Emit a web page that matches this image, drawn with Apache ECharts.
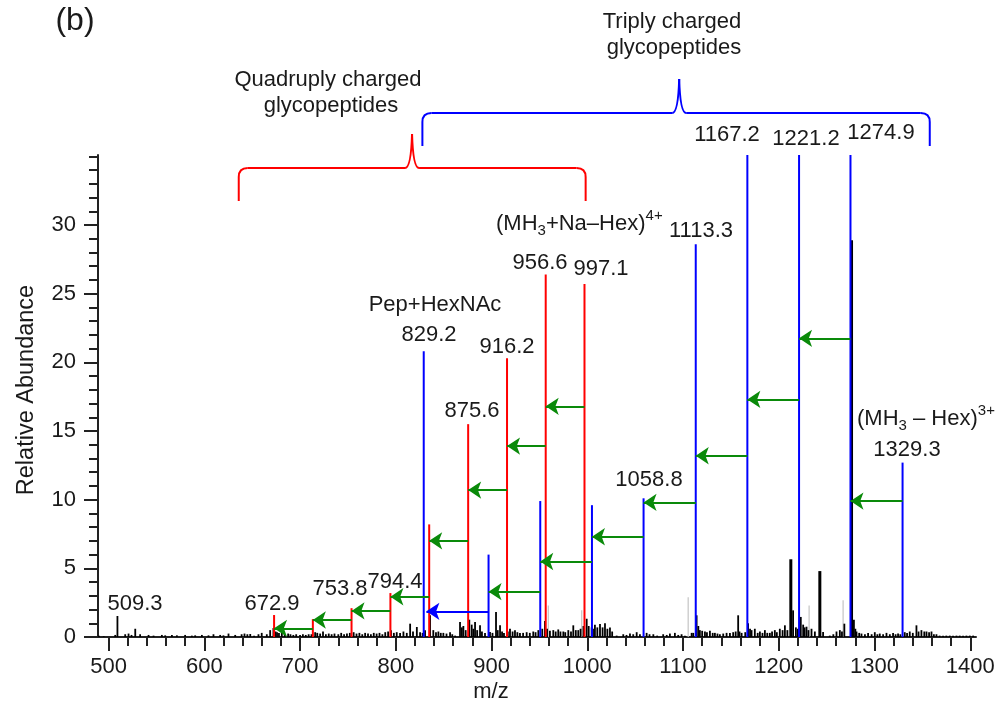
<!DOCTYPE html>
<html>
<head>
<meta charset="utf-8">
<script src="https://cdn.jsdelivr.net/npm/echarts@6/dist/echarts.min.js"></script>
<style>
html,body{margin:0;padding:0;background:#fff;}
#chart{width:1002px;height:711px;}
</style>
</head>
<body>
<div id="chart"></div>
<script>
// ---------------- DATA ----------------
// quadruply charged series (red)
const redMz  = [672.9, 713.4, 753.8, 794.4, 834.9, 875.6, 916.2, 956.6, 997.1];
const redInt = [1.6,   1.3,   2.1,   3.2,   8.2,   15.5,  20.3,  26.4,  25.7];
// triply charged series (blue); the three tallest run off the top of the scale
const blueMz  = [829.2, 896.9, 950.9, 1004.9, 1058.8, 1113.3, 1167.2, 1221.2, 1274.9, 1329.3];
const blueInt = [20.8,  6.0,   9.9,   9.6,    10.1,   28.6,   35.2,   35.2,   35.2,   12.7];
// strong unassigned peaks (black)
const strongMz  = [1212.6, 1242.9, 1276.0];
const strongInt = [5.66,   4.8,    28.9];
// faint grey peaks
const greyMz  = [959.3, 994.2, 1105.4, 1231.7, 1267.2];
const greyInt = [2.3,   1.94,  2.9,    2.3,    2.67];
// baseline (black) peaks
const noiseMz = [490,495,507,509.3,517.4,520.9,524,527.9,533,541.8,547,555.7,559.2,566.2,571.4,580,587,590.5,597.5,604.4,609.6,616.6,620,625.3,632.3,639,642,645,648,652,656.6,660,665.3,668.8,672.2,674.5,676,678,681,684,687.6,690,693,696,700,703,706,709,712,715.8,718,721,724,727,730,733,736,740,743,746,749,752,756,759,762,765,768,771,774,777,780,783,786,789,792,795,798,801,804.5,808,811.5,815,818,822,825.4,828,830.6,835.8,839.2,842,844.5,847,849.7,853,856.7,859,862,867.1,869,870.6,873,876.8,879.3,881,882.8,885,888,890,893.2,898.4,901,904.7,906.5,908.9,911,913,917,919.3,922,924.5,927,929.7,933,936.7,940,943.6,946,948.9,953,955.8,958,961,964.5,967,969.7,972,975,977,980.2,983,985.4,988,990.6,993,996,999.4,1001.5,1004.6,1006,1008,1010.5,1013.3,1016,1018.5,1021,1023.7,1026,1030.7,1037.6,1041,1044.6,1048,1051.6,1055,1062,1065,1069,1073,1079.3,1083,1086.3,1091.5,1095,1098.5,1102,1109,1110.7,1114.2,1116,1117.6,1120,1122.9,1125,1128.1,1131,1133.3,1136,1138.5,1142,1145.5,1149,1152.4,1155,1157.6,1159,1161.2,1165,1168,1170,1171.6,1175,1178,1180.3,1183,1185.5,1188,1190.7,1193,1195.9,1198,1201.1,1204,1206.4,1209,1215,1217.9,1220,1223,1225.5,1227,1229,1231,1234.2,1237.7,1246.3,1253.3,1257,1260.3,1263.8,1266,1268.5,1278.5,1280,1281.2,1284,1286.4,1290,1293.3,1297,1300.3,1303,1305.5,1309,1312.5,1316,1319.4,1322,1324.6,1327,1331.6,1334,1336.8,1340,1343.8,1346,1349,1352,1354.3,1357,1359.5,1362,1364.7,1368,1371.6,1375,1378.6,1382,1385.6,1389,1392.5,1396,1399.5,1403];
const noiseInt = [0.1,0.05,0.15,1.53,0.2,0.25,0.15,0.6,0.2,0.15,0.1,0.15,0.12,0.15,0.12,0.15,0.1,0.12,0.15,0.12,0.2,0.15,0.12,0.25,0.15,0.2,0.25,0.2,0.22,0.1,0.2,0.3,0.2,0.5,0.65,0.4,0.35,0.3,0.4,0.2,0.25,0.2,0.15,0.2,0.15,0.2,0.15,0.2,0.2,0.35,0.3,0.25,0.4,0.2,0.25,0.2,0.25,0.2,0.3,0.2,0.25,0.3,0.35,0.25,0.3,0.2,0.3,0.25,0.2,0.3,0.25,0.3,0.2,0.35,0.4,0.5,0.3,0.35,0.3,0.4,0.3,0.97,0.4,0.73,0.35,0.3,0.5,1.58,0.5,0.35,0.4,0.3,0.3,0.25,0.35,0.2,0.1,1.1,0.7,0.8,0.5,1.26,0.9,0.6,1.1,0.5,0.85,0.4,0.3,0.37,0.3,1.82,0.5,0.85,0.4,0.3,0.4,0.6,0.4,0.5,0.35,0.3,0.3,0.35,0.3,0.4,0.35,0.5,0.6,1.17,0.6,0.45,0.5,0.4,0.55,0.4,0.4,0.35,0.5,0.4,0.85,0.5,0.5,0.6,0.8,1.33,0.8,0.7,0.6,0.9,0.7,0.95,0.7,1.0,0.6,0.7,0.4,0.1,0.2,0.15,0.25,0.2,0.35,0.2,0.3,0.2,0.2,0.1,0.2,0.15,0.25,0.3,0.15,0.2,0.1,0.3,0.3,1.58,0.8,0.5,0.45,0.4,0.35,0.45,0.3,0.3,0.25,0.2,0.25,0.3,0.3,0.35,0.4,1.58,0.4,0.3,0.35,1.0,0.6,0.5,0.6,0.3,0.4,0.3,0.5,0.3,0.3,0.4,0.5,0.35,0.6,0.5,0.85,0.5,1.94,0.7,0.6,1.46,0.9,0.7,0.75,0.5,0.6,0.4,0.37,0.1,0.2,0.4,0.5,0.4,0.97,1.26,0.6,0.4,0.3,0.25,0.2,0.3,0.2,0.35,0.2,0.25,0.2,0.3,0.2,0.3,0.2,0.25,0.2,0.35,0.3,0.4,0.3,0.85,0.4,0.5,0.4,0.4,0.35,0.4,0.2,0.2,0.1,0.1,0.1,0.1,0.1,0.1,0.1,0.1,0.1,0.1,0.1];
// neutral-loss arrows (from higher m/z peak to lower), drawn at given abundance
const greenFrom = [713.4, 753.8, 794.4, 834.9, 875.6, 916.2, 956.6, 997.1, 950.9, 1004.9, 1058.8, 1113.3, 1167.2, 1221.2, 1274.9, 1329.3];
const greenTo   = [672.9, 713.4, 753.8, 794.4, 834.9, 875.6, 916.2, 956.6, 896.9, 950.9,  1004.9, 1058.8, 1113.3, 1167.2, 1221.2, 1274.9];
const greenAt   = [0.63,  1.24,  1.9,   2.93,  7.0,   10.7,  13.9,  16.8,  3.3,   5.5,    7.3,    9.8,    13.2,   17.3,   21.75,  9.9];
const blueFrom = [896.9];
const blueTo   = [832.0];
const blueAt   = [1.87];
// axis ticks
const xMajorTicks = [500, 600, 700, 800, 900, 1000, 1100, 1200, 1300, 1400];
const xMinorTicks = [];
for (let v = 500; v <= 1400; v += 20) xMinorTicks.push(v);
const yMajorTicks = [0, 5, 10, 15, 20, 25, 30];
const yMinorTicks = [];
for (let v = 0; v <= 35; v += 1) yMinorTicks.push(v);

// ---------------- CHART ----------------
const FONT = '"Liberation Sans", Arial, Helvetica, sans-serif';
const TXT = '#1a1a1a';
const FS = 22;
const chart = echarts.init(document.getElementById('chart'), null, {renderer: 'canvas'});

function zip(a, b) { return a.map((v, i) => [v, b[i]]); }
function stickSeries(name, mz, inten, color, width, z) {
  return {
    name: name, type: 'custom', xAxisIndex: 0, yAxisIndex: 0, clip: true, z: z,
    data: zip(mz, inten),
    renderItem: function (params, api) {
      const p0 = api.coord([api.value(0), 0]);
      const p1 = api.coord([api.value(0), api.value(1)]);
      return {type: 'line', shape: {x1: p0[0], y1: p0[1], x2: p1[0], y2: p1[1]},
              style: {stroke: color, lineWidth: width}};
    }
  };
}
function arrowSeries(name, from, to, at, color, z) {
  return {
    name: name, type: 'lines', coordinateSystem: 'cartesian2d', xAxisIndex: 0, yAxisIndex: 0, z: z,
    symbol: ['none', 'arrow'], symbolSize: 13,
    lineStyle: {color: color, width: 2, opacity: 1, curveness: 0},
    data: from.map((f, i) => ({coords: [[f, at[i]], [to[i], at[i]]]}))
  };
}

const xMin = 489, xMax = 1406, yMax = 35.1;
const axisLineStyle = {color: '#222', width: 2};
const plain = v => String(v);

const option = {
  animation: false,
  backgroundColor: '#ffffff',
  textStyle: {fontFamily: FONT},
  grid: {left: 98, right: 26, top: 155, bottom: 74, containLabel: false},
  xAxis: [
    {type: 'value', min: xMin, max: xMax, position: 'bottom',
     axisLine: {show: true, onZero: false, lineStyle: axisLineStyle},
     axisTick: {show: true, customValues: xMajorTicks, length: 14, lineStyle: {color: '#222', width: 2}},
     axisLabel: {show: true, customValues: xMajorTicks, formatter: plain, fontSize: FS, color: TXT, fontFamily: FONT, margin: 19},
     splitLine: {show: false}},
    {type: 'value', min: xMin, max: xMax, position: 'bottom',
     axisLine: {show: false},
     axisTick: {show: true, customValues: xMinorTicks, length: 9, lineStyle: {color: '#222', width: 2}},
     axisLabel: {show: false}, splitLine: {show: false}}
  ],
  yAxis: [
    {type: 'value', min: 0, max: yMax, position: 'left',
     axisLine: {show: true, onZero: false, lineStyle: axisLineStyle},
     axisTick: {show: true, customValues: yMajorTicks, length: 14, lineStyle: {color: '#222', width: 2}},
     axisLabel: {show: true, customValues: yMajorTicks, formatter: plain, fontSize: FS, color: TXT, fontFamily: FONT, margin: 22},
     splitLine: {show: false}},
    {type: 'value', min: 0, max: yMax, position: 'left',
     axisLine: {show: false},
     axisTick: {show: true, customValues: yMinorTicks, length: 9, lineStyle: {color: '#222', width: 2}},
     axisLabel: {show: false}, splitLine: {show: false}}
  ],
  series: [
    stickSeries('grey', greyMz, greyInt, '#c4c4c4', 1.2, 1),
    stickSeries('baseline', noiseMz, noiseInt, '#000000', 1.8, 2),
    stickSeries('strong', strongMz, strongInt, '#000000', 3, 3),
    stickSeries('quadruply', redMz, redInt, '#ff0000', 2, 4),
    stickSeries('triply', blueMz, blueInt, '#0000ff', 2, 4),
    arrowSeries('lossGreen', greenFrom, greenTo, greenAt, '#0a8a0a', 5),
    arrowSeries('lossBlue', blueFrom, blueTo, blueAt, '#0000ff', 5)
  ]
};
chart.setOption(option);

// ---------------- ANNOTATIONS ----------------
function txt(text, x, y, size, align, extra) {
  const s = Object.assign({text: text, fill: TXT, fontSize: size, fontFamily: FONT,
                           align: align || 'center', verticalAlign: 'middle'}, extra || {});
  return {type: 'text', x: x, y: y, z: 100, style: s};
}
const richSS = {
  sub: {fontSize: 15, fontFamily: FONT, fill: TXT, padding: [13, 0, 0, 0]},
  sup: {fontSize: 15, fontFamily: FONT, fill: TXT, padding: [0, 0, 16, 0]}
};
function seg(x1, y1, x2, y2, color) {
  return {type: 'line', z: 100, shape: {x1: x1, y1: y1, x2: x2, y2: y2}, style: {stroke: color, lineWidth: 2}};
}
function curve(x1, y1, cx, cy, x2, y2, color) {
  return {type: 'bezierCurve', z: 100, shape: {x1: x1, y1: y1, cpx1: cx, cpy1: cy, x2: x2, y2: y2},
          style: {stroke: color, lineWidth: 2, fill: null}};
}
function bracket(x1, x2, xc, yh, yb, yt, color) {
  const r = 9, s = 7;
  return [
    seg(x1, yb, x1, yh + r, color),
    curve(x1, yh + r, x1, yh, x1 + r, yh, color),
    seg(x1 + r, yh, xc - s, yh, color),
    curve(xc - s, yh, xc - 1, yh, xc, yt, color),
    curve(xc, yt, xc + 1, yh, xc + s, yh, color),
    seg(xc + s, yh, x2 - r, yh, color),
    curve(x2 - r, yh, x2, yh, x2, yh + r, color),
    seg(x2, yh + r, x2, yb, color)
  ];
}
function px(mz, v) { return chart.convertToPixel({xAxisIndex: 0, yAxisIndex: 0}, [mz, v]); }

const rL = px(636, 0)[0], rR = px(998.3, 0)[0], rC = px(817, 0)[0];
const bL = px(827.8, 0)[0], bR = px(1357.7, 0)[0], bC = px(1096, 0)[0];

const graphics = [
  txt('(b)', 75, 21, 32, 'center'),
  txt('Quadruply charged', 328, 80, FS),
  txt('glycopeptides', 331, 106, FS),
  txt('Triply charged', 672, 22, FS),
  txt('glycopeptides', 674, 48, FS),
  txt('509.3', 135, 604, FS),
  txt('672.9', 272, 604, FS),
  txt('753.8', 340, 589, FS),
  txt('794.4', 395, 582, FS),
  txt('Pep+HexNAc', 435, 305, FS),
  txt('829.2', 429, 335, FS),
  txt('875.6', 472, 411, FS),
  txt('916.2', 507, 347, FS),
  txt('956.6', 540, 263, FS),
  txt('997.1', 601, 269, FS),
  txt('(MH{sub|3}+Na–Hex){sup|4+}', 496, 224, FS, 'left', {rich: richSS}),
  txt('1113.3', 701, 231, FS),
  txt('1167.2', 727, 135, FS),
  txt('1221.2', 806, 139, FS),
  txt('1274.9', 881, 133, FS),
  txt('1058.8', 649, 480, FS),
  txt('(MH{sub|3} – Hex){sup|3+}', 857, 419, FS, 'left', {rich: richSS}),
  txt('1329.3', 907, 450, FS),
  txt('m/z', 491, 692, FS),
  {type: 'text', x: 27, y: 390, rotation: Math.PI / 2, z: 100,
   style: {text: 'Relative Abundance', fill: TXT, fontSize: 23.5, fontFamily: FONT, align: 'center', verticalAlign: 'middle'}}
].concat(bracket(rL, rR, rC, 168, 201, 134, '#ff0000'))
 .concat(bracket(bL, bR, bC, 113, 146, 79, '#0000ff'));
chart.setOption({graphic: graphics});
</script>
</body>
</html>
